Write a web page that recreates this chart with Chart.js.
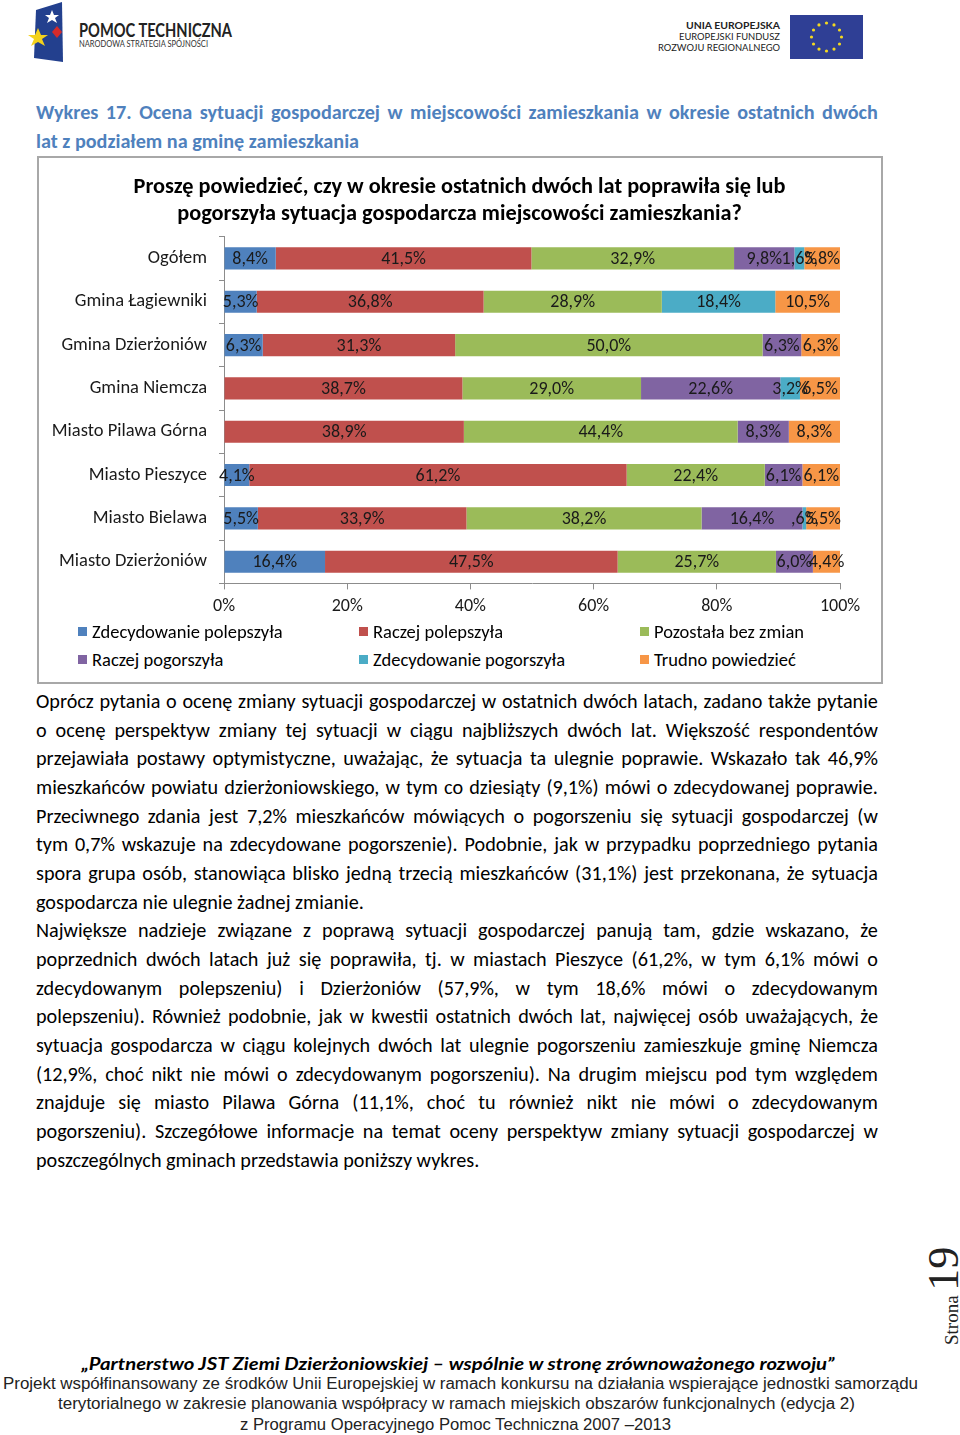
<!DOCTYPE html>
<html>
<head>
<meta charset="utf-8">
<script src="https://cdn.jsdelivr.net/npm/chart.js@4.4.0/dist/chart.umd.min.js"></script>
<style>
  body { margin: 0; width: 960px; height: 1435px; position: relative; background: #fff; overflow: hidden;
         font-family: Carlito, Calibri, Lato, sans-serif; color: #000; }
  .abs { position: absolute; }
  .line { position: absolute; left: 36px; width: 842px; height: 28px; line-height: 28px; white-space: nowrap; }
  .line.full { display: flex; justify-content: space-between; }
  .head { font-size: 20.2px; font-weight: bold; color: #4F81BD; }
  .body { font-size: 20.2px; }
  #box { left: 37px; top: 156px; width: 842px; height: 524px; border: 2px solid #a8a8a8; }
  #chartWrap { left: 39px; top: 158px; width: 841px; height: 469px; }
  .leg { position: absolute; font-size: 18.5px; line-height: 22px; white-space: nowrap; }
  .leg i { display: inline-block; width: 9px; height: 9px; margin-right: 5px; vertical-align: 2px; }
</style>
</head>
<body>

<svg class="abs" style="left:0;top:0" width="960" height="70">
  <polygon points="36,10 62,2 63,62 34,58" fill="#23408e"/>
  <polygon points="52,10 54,15 59,15 55,18 57,23 52,20 47,23 49,18 45,15 50,15" fill="#fff"/>
  <polygon points="57,26 62,32 57,38 52,32" fill="#d52b2b"/>
  <polygon points="38,28 41,35 48,35 42,39 45,46 38,42 31,46 34,39 28,35 35,35" fill="#f3d21c"/>
  <text x="79" y="37" font-family="Lato, sans-serif" font-weight="bold" font-size="18" fill="#222" textLength="153" lengthAdjust="spacingAndGlyphs">POMOC TECHNICZNA</text>
  <text x="79" y="47" font-family="Lato, sans-serif" font-size="8.5" fill="#333" textLength="129" lengthAdjust="spacingAndGlyphs">NARODOWA STRATEGIA SPÓJNOŚCI</text>

  <text x="780" y="29" text-anchor="end" font-family="Lato, sans-serif" font-weight="bold" font-size="10" fill="#222" textLength="94" lengthAdjust="spacingAndGlyphs">UNIA EUROPEJSKA</text>
  <text x="780" y="40" text-anchor="end" font-family="Lato, sans-serif" font-size="10" fill="#222" textLength="101" lengthAdjust="spacingAndGlyphs">EUROPEJSKI FUNDUSZ</text>
  <text x="780" y="51" text-anchor="end" font-family="Lato, sans-serif" font-size="10" fill="#222" textLength="122" lengthAdjust="spacingAndGlyphs">ROZWOJU REGIONALNEGO</text>
  <rect x="790" y="15" width="73" height="44" fill="#2f3f95"/>
  <g id="euStars" fill="#f4d91f"></g>
</svg>

<div class="line head" style="top:98px" data-text="Wykres 17. Ocena sytuacji gospodarczej w miejscowości zamieszkania w okresie ostatnich dwóch"></div>
<div class="line head last" style="top:127px" data-text="lat z podziałem na gminę zamieszkania"></div>

<div id="box" class="abs"></div>
<div id="chartWrap" class="abs"><canvas id="chart"></canvas></div>
<div id="legend"></div>

<div id="bodyText"></div>

<svg class="abs" style="left:0;top:1230px" width="960" height="205">
  <text transform="translate(958,115) rotate(-90)" font-family="Liberation Serif, serif" fill="#222"><tspan font-size="19">Strona </tspan><tspan font-size="44">19</tspan></text>
  <text x="458" y="140" text-anchor="middle" font-family="Lato, sans-serif" font-weight="bold" font-style="italic" font-size="16.5" textLength="753" lengthAdjust="spacingAndGlyphs">„Partnerstwo JST Ziemi Dzierżoniowskiej – wspólnie w stronę zrównoważonego rozwoju”</text>
  <text x="3" y="159" font-family="Liberation Sans Narrow, Liberation Sans, sans-serif" font-size="16" fill="#222" textLength="915" lengthAdjust="spacingAndGlyphs">Projekt współfinansowany ze środków Unii Europejskiej w ramach konkursu na działania wspierające jednostki samorządu</text>
  <text x="58" y="179" font-family="Liberation Sans Narrow, Liberation Sans, sans-serif" font-size="16" fill="#222" textLength="797" lengthAdjust="spacingAndGlyphs">terytorialnego w zakresie planowania współpracy w ramach miejskich obszarów funkcjonalnych (edycja 2)</text>
  <text x="240" y="200" font-family="Liberation Sans Narrow, Liberation Sans, sans-serif" font-size="16" fill="#222" textLength="431" lengthAdjust="spacingAndGlyphs">z Programu Operacyjnego Pomoc Techniczna 2007 –2013</text>
</svg>

<script>
// chart data
const categories = ['Ogółem', 'Gmina Łagiewniki', 'Gmina Dzierżoniów', 'Gmina Niemcza',
    'Miasto Pilawa Górna', 'Miasto Pieszyce', 'Miasto Bielawa', 'Miasto Dzierżoniów'];
const seriesNames = ['Zdecydowanie polepszyła', 'Raczej polepszyła', 'Pozostała bez zmian',
    'Raczej pogorszyła', 'Zdecydowanie pogorszyła', 'Trudno powiedzieć'];
const seriesColors = ['#4F81BD', '#C0504D', '#9BBB59', '#8064A2', '#4BACC6', '#F79646'];

const zdecydowaniePolepszyla = [8.4, 5.3, 6.3, 0, 0, 4.1, 5.5, 16.4];
const raczejPolepszyla = [41.5, 36.8, 31.3, 38.7, 38.9, 61.2, 33.9, 47.5];
const bezZmian = [32.9, 28.9, 50.0, 29.0, 44.4, 22.4, 38.2, 25.7];
const raczejPogorszyla = [9.8, 0, 6.3, 22.6, 8.3, 6.1, 16.4, 6.0];
const zdecydowaniePogorszyla = [1.6, 18.4, 0, 3.2, 0, 0, 0.6, 0];
const trudnoPowiedziec = [5.8, 10.5, 6.3, 6.5, 8.3, 6.1, 5.5, 4.4];
const xTicks = [0, 20, 40, 60, 80, 100];

const series = [zdecydowaniePolepszyla, raczejPolepszyla, bezZmian,
    raczejPogorszyla, zdecydowaniePogorszyla, trudnoPowiedziec];

// 100% stacked: bars are scaled so each row fills the axis
const rowSums = categories.map((c, j) => series.reduce((s, arr) => s + arr[j], 0));

const FONT = 'Carlito, Calibri, Lato, sans-serif';

function fmt(v) {
    let s = v.toFixed(1).replace('.', ',');
    if (s.startsWith('0,')) s = s.slice(1);
    return s + '%';
}

// value labels in the middle of each segment
const barLabels = {
    id: 'barLabels',
    afterDatasetsDraw(chart) {
        const ctx = chart.ctx;
        ctx.save();
        ctx.font = '18px ' + FONT;
        ctx.fillStyle = '#1a1a1a';
        ctx.textAlign = 'center';
        ctx.textBaseline = 'middle';
        chart.data.datasets.forEach((ds, i) => {
            chart.getDatasetMeta(i).data.forEach((bar, j) => {
                const v = ds.rawValues[j];
                if (!v) return;
                ctx.fillText(fmt(v), (bar.x + bar.base) / 2, bar.y + 1);
            });
        });
        ctx.restore();
    }
};

Chart.defaults.font.family = FONT;
Chart.defaults.color = '#1a1a1a';

new Chart(document.getElementById('chart'), {
    type: 'bar',
    data: {
        labels: categories,
        datasets: series.map((arr, i) => ({
            label: seriesNames[i],
            data: arr.map((v, j) => v / rowSums[j] * 100),
            rawValues: arr,
            backgroundColor: seriesColors[i],
            categoryPercentage: 1,
            barPercentage: 0.51
        }))
    },
    options: {
        indexAxis: 'y',
        responsive: true,
        maintainAspectRatio: false,
        animation: false,
        layout: { padding: { left: 0, right: 0, top: 0, bottom: 4 } },
        plugins: {
            legend: { display: false },
            tooltip: { enabled: false },
            title: {
                display: true,
                text: ['Proszę powiedzieć, czy w okresie ostatnich dwóch lat poprawiła się lub',
                       'pogorszyła sytuacja gospodarcza miejscowości zamieszkania?'],
                font: { size: 22.3, weight: 'bold', lineHeight: 1.25 },
                color: '#000',
                padding: { top: 15, bottom: 8 }
            }
        },
        scales: {
            x: {
                stacked: true,
                min: 0,
                max: 100,
                afterBuildTicks(scale) { scale.ticks = xTicks.map(v => ({ value: v })); },
                // keep the plot short of the right edge without shifting the title
                afterFit(scale) { scale.paddingRight = 40; },
                ticks: { callback: v => v + '%', font: { size: 18 }, padding: 6 },
                grid: { drawOnChartArea: false, tickLength: 6, color: '#8c8c8c' },
                border: { color: '#8c8c8c' }
            },
            y: {
                stacked: true,
                afterFit(scale) { scale.width = 185; },
                ticks: { font: { size: 18.5 }, padding: 12 },
                grid: { offset: true, drawOnChartArea: false, tickLength: 5, color: '#8c8c8c' },
                border: { color: '#8c8c8c' }
            }
        }
    },
    plugins: [barLabels]
});

// legend in three columns, like the original
const legendCols = [78, 359, 640];
const legendRows = [632, 660];
const legend = document.getElementById('legend');
seriesNames.forEach((name, i) => {
    const d = document.createElement('div');
    d.className = 'leg';
    d.style.left = legendCols[i % 3] + 'px';
    d.style.top = (legendRows[Math.floor(i / 3)] - 11) + 'px';
    d.innerHTML = '<i style="background:' + seriesColors[i] + '"></i>' + name;
    legend.appendChild(d);
});

// EU flag stars
const stars = document.getElementById('euStars');
for (let k = 0; k < 12; k++) {
    const a = k * Math.PI / 6;
    const c = document.createElementNS('http://www.w3.org/2000/svg', 'circle');
    c.setAttribute('cx', 826.5 + 15 * Math.sin(a));
    c.setAttribute('cy', 37 - 14 * Math.cos(a));
    c.setAttribute('r', 1.6);
    stars.appendChild(c);
}

// text body, one line per row so the breaks match the page
const bodyLines = [
    ['Oprócz pytania o ocenę zmiany sytuacji gospodarczej w ostatnich dwóch latach, zadano także pytanie', 0],
    ['o ocenę perspektyw zmiany tej sytuacji w ciągu najbliższych dwóch lat. Większość respondentów', 0],
    ['przejawiała postawy optymistyczne, uważając, że sytuacja ta ulegnie poprawie. Wskazało tak 46,9%', 0],
    ['mieszkańców powiatu dzierżoniowskiego, w tym co dziesiąty (9,1%) mówi o zdecydowanej poprawie.', 0],
    ['Przeciwnego zdania jest 7,2% mieszkańców mówiących o pogorszeniu się sytuacji gospodarczej (w', 0],
    ['tym 0,7% wskazuje na zdecydowane pogorszenie). Podobnie, jak w przypadku poprzedniego pytania', 0],
    ['spora grupa osób, stanowiąca blisko jedną trzecią mieszkańców (31,1%) jest przekonana, że sytuacja', 0],
    ['gospodarcza nie ulegnie żadnej zmianie.', 1],
    ['Największe nadzieje związane z poprawą sytuacji gospodarczej panują tam, gdzie wskazano, że', 0],
    ['poprzednich dwóch latach już się poprawiła, tj. w miastach Pieszyce (61,2%, w tym 6,1% mówi o', 0],
    ['zdecydowanym polepszeniu) i Dzierżoniów (57,9%, w tym 18,6% mówi o zdecydowanym', 0],
    ['polepszeniu). Również podobnie, jak w kwestii ostatnich dwóch lat, najwięcej osób uważających, że', 0],
    ['sytuacja gospodarcza w ciągu kolejnych dwóch lat ulegnie pogorszeniu zamieszkuje gminę Niemcza', 0],
    ['(12,9%, choć nikt nie mówi o zdecydowanym pogorszeniu). Na drugim miejscu pod tym względem', 0],
    ['znajduje się miasto Pilawa Górna (11,1%, choć tu również nikt nie mówi o zdecydowanym', 0],
    ['pogorszeniu). Szczegółowe informacje na temat oceny perspektyw zmiany sytuacji gospodarczej w', 0],
    ['poszczególnych gminach przedstawia poniższy wykres.', 1]
];
const bodyText = document.getElementById('bodyText');
bodyLines.forEach((l, i) => {
    const d = document.createElement('div');
    d.className = 'line body';
    d.style.top = (687 + i * 28.67) + 'px';
    d.dataset.text = l[0];
    if (l[1]) d.classList.add('last');
    bodyText.appendChild(d);
});

// justified lines: spread words across the full width
document.querySelectorAll('.line').forEach(d => {
    const t = d.dataset.text;
    if (d.classList.contains('last')) { d.textContent = t; return; }
    d.classList.add('full');
    t.split(' ').forEach(w => {
        const s = document.createElement('span');
        s.textContent = w;
        d.appendChild(s);
    });
});
</script>
</body>
</html>
